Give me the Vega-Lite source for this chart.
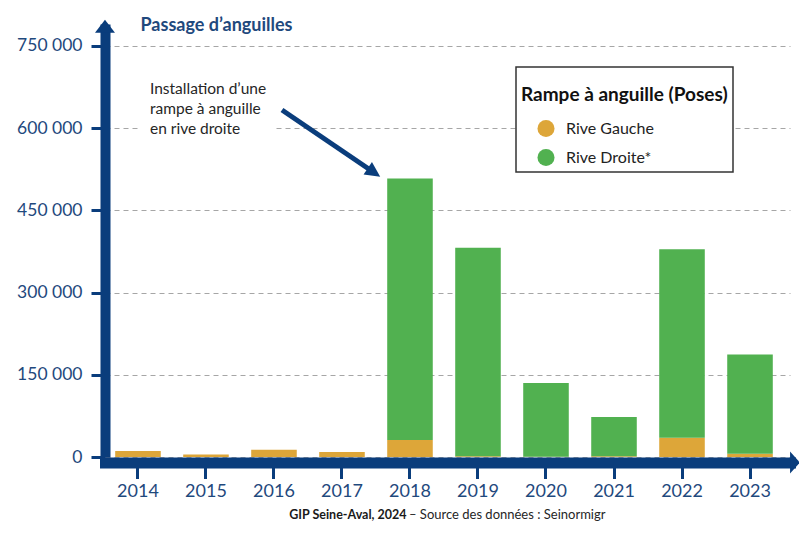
{
  "$schema": "https://vega.github.io/schema/vega-lite/v6.json",
  "width": 685,
  "height": 433,
  "autosize": {"type": "none"},
  "padding": {"left": 105, "top": 24, "right": 9, "bottom": 76},
  "background": "white",
  "config": {
    "font": "Lato",
    "view": {"stroke": null}
  },
  "title": {
    "text": "– Source des données : Seinormigr",
    "orient": "bottom",
    "anchor": "start",
    "frame": "group",
    "dx": 304,
    "offset": -12,
    "fontSize": 13,
    "fontWeight": "normal",
    "color": "#262626"
  },
  "datasets": {
    "passages": [
      {"annee": "2014", "rive": "Rive Gauche", "passages": 11000},
      {"annee": "2015", "rive": "Rive Gauche", "passages": 4500},
      {"annee": "2016", "rive": "Rive Gauche", "passages": 13000},
      {"annee": "2017", "rive": "Rive Gauche", "passages": 9000},
      {"annee": "2018", "rive": "Rive Gauche", "passages": 31000},
      {"annee": "2018", "rive": "Rive Droite*", "passages": 477000},
      {"annee": "2019", "rive": "Rive Gauche", "passages": 1500},
      {"annee": "2019", "rive": "Rive Droite*", "passages": 380500},
      {"annee": "2020", "rive": "Rive Gauche", "passages": 500},
      {"annee": "2020", "rive": "Rive Droite*", "passages": 134500},
      {"annee": "2021", "rive": "Rive Gauche", "passages": 1500},
      {"annee": "2021", "rive": "Rive Droite*", "passages": 71500},
      {"annee": "2022", "rive": "Rive Gauche", "passages": 35000},
      {"annee": "2022", "rive": "Rive Droite*", "passages": 344000},
      {"annee": "2023", "rive": "Rive Gauche", "passages": 6000},
      {"annee": "2023", "rive": "Rive Droite*", "passages": 181000}
    ],
    "one": [{}]
  },
  "layer": [
    {
      "data": {"name": "passages"},
      "mark": {"type": "bar"},
      "encoding": {
        "x": {
          "field": "annee",
          "type": "ordinal",
          "scale": {"paddingInner": 0.33, "paddingOuter": 0.2015, "align": 0.372},
          "axis": {
            "title": "GIP Seine-Aval, 2024",
            "labelAngle": 0,
            "labelColor": "#1f497d",
            "labelFontSize": 18,
            "labelPadding": 4,
            "domainColor": "#0a3d7c",
            "domainWidth": 11,
            "domainCap": "square",
            "tickColor": "#0a3d7c",
            "tickWidth": 3,
            "tickSize": 16,
            "offset": 5.5,
            "titleFontSize": 12.5,
            "titleFontWeight": "bold",
            "titleColor": "#1a1a1a",
            "titleAlign": "right",
            "titleBaseline": "alphabetic",
            "titleX": 301,
            "titleY": 55.5
          }
        },
        "y": {
          "field": "passages",
          "type": "quantitative",
          "stack": "zero",
          "scale": {"domain": [0, 790000], "nice": false},
          "axis": {
            "values": [0, 150000, 300000, 450000, 600000, 750000],
            "labelExpr": "datum.value == 0 ? '0' : format(datum.value / 1000, 'd') + ' 000'",
            "labelColor": "#1f497d",
            "labelFontSize": 17.5,
            "labelPadding": 9,
            "domainColor": "#0a3d7c",
            "domainWidth": 10,
            "domainCap": "butt",
            "tickColor": "#0a3d7c",
            "tickWidth": 3,
            "tickSize": 14,
            "grid": true,
            "gridDash": [5, 4],
            "gridColor": "#a6a6a6",
            "gridWidth": 1,
            "title": "Passage d’anguilles",
            "titleAngle": 0,
            "titleAlign": "left",
            "titleBaseline": "alphabetic",
            "titleX": 35,
            "titleY": 6,
            "titleFontSize": 18,
            "titleFontWeight": "bold",
            "titleColor": "#1f497d"
          }
        },
        "color": {
          "field": "rive",
          "type": "nominal",
          "scale": {"domain": ["Rive Gauche", "Rive Droite*"], "range": ["#dda639", "#51b150"]},
          "legend": {
            "title": "Rampe à anguille (Poses)\u00a0\u00a0\u00a0\u00a0",
            "orient": "none",
            "legendX": 411,
            "legendY": 43,
            "fillColor": "white",
            "strokeColor": "#333333",
            "padding": 5,
            "titleFontSize": 19,
            "titleFontWeight": "bold",
            "titleColor": "#111111",
            "titleLimit": 400,
            "titleBaseline": "line-top",
            "titleLineHeight": 46,
            "titlePadding": 28.5,
            "labelFontSize": 16,
            "labelColor": "#222222",
            "labelOffset": 11,
            "symbolType": "circle",
            "symbolSize": 290,
            "symbolOffset": 16,
            "symbolStrokeWidth": 0,
            "rowPadding": 11,
            "encode": {"legend": {"update": {"strokeWidth": {"value": 1.5}}}}
          }
        },
        "order": {"field": "rive", "sort": "descending"}
      }
    },
    {
      "data": {"name": "one"},
      "mark": {"type": "rect", "color": "white"},
      "encoding": {
        "x": {"datum": "2014", "type": "ordinal"},
        "x2": {"datum": "2016"},
        "y": {"datum": 692000, "type": "quantitative"},
        "y2": {"datum": 578000}
      }
    },
    {
      "data": {"name": "one"},
      "mark": {
        "type": "text",
        "text": ["Installation d’une", "rampe à anguille", "en rive droite"],
        "align": "left",
        "baseline": "top",
        "lineHeight": 20,
        "fontSize": 15.5,
        "color": "#262626",
        "xOffset": 12
      },
      "encoding": {
        "x": {"datum": "2014", "type": "ordinal"},
        "y": {"datum": 684000, "type": "quantitative"}
      }
    },
    {
      "data": {"name": "one"},
      "mark": {"type": "rule", "color": "#0a3d7c", "strokeWidth": 5, "xOffset": 8, "x2Offset": -36},
      "encoding": {
        "x": {"datum": "2016", "type": "ordinal"},
        "x2": {"datum": "2018"},
        "y": {"datum": 633000, "type": "quantitative"},
        "y2": {"datum": 519000}
      }
    },
    {
      "data": {"name": "one"},
      "mark": {"type": "point", "filled": true, "opacity": 1, "color": "#0a3d7c", "shape": "M-1,-1L1,0L-1,1Z", "size": 225, "angle": 34, "xOffset": -36},
      "encoding": {
        "x": {"datum": "2018", "type": "ordinal"},
        "y": {"datum": 519000, "type": "quantitative"}
      }
    },
    {
      "data": {"name": "one"},
      "mark": {"type": "point", "filled": true, "opacity": 1, "color": "#0a3d7c", "shape": "M0,-0.65L1,0.65L-1,0.65Z", "size": 400, "xOffset": -33},
      "encoding": {
        "x": {"datum": "2014", "type": "ordinal"},
        "y": {"datum": 786000, "type": "quantitative"}
      }
    },
    {
      "data": {"name": "one"},
      "mark": {"type": "point", "filled": true, "opacity": 1, "color": "#0a3d7c", "shape": "M-0.45,-1L0.45,0L-0.45,1Z", "size": 484, "xOffset": 45, "yOffset": 5.5},
      "encoding": {
        "x": {"datum": "2023", "type": "ordinal"},
        "y": {"datum": 0, "type": "quantitative"}
      }
    }
  ]
}
